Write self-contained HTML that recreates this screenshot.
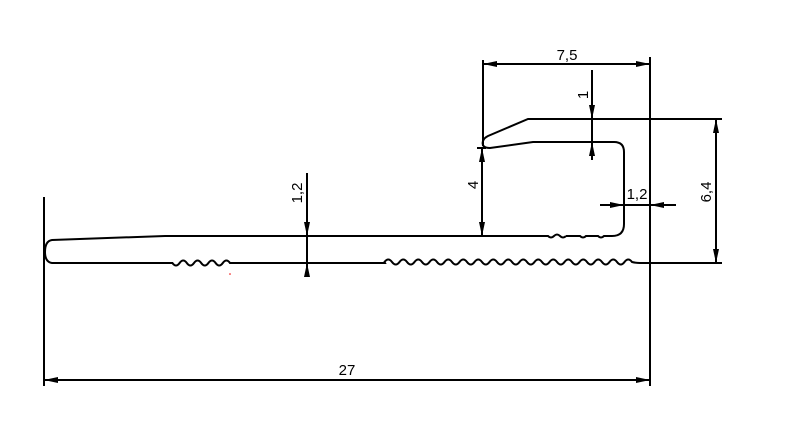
<!DOCTYPE html>
<html><head><meta charset="utf-8"><style>
html,body{margin:0;padding:0;background:#fff;}
svg{display:block}
text{font-family:"Liberation Sans",sans-serif;font-size:15px;fill:#000}
</style></head><body>
<svg width="800" height="427" viewBox="0 0 800 427" xmlns="http://www.w3.org/2000/svg">
<defs>
<marker id="a" viewBox="0 0 14 6" refX="14" refY="3" markerWidth="14" markerHeight="6" markerUnits="userSpaceOnUse" orient="auto-start-reverse"><path d="M0,0L14,3L0,6z" fill="#000"/></marker>
</defs>
<g fill="none" stroke="#000" stroke-width="2">
<path d="M650,263 L640,263 Q636,263 632,262 q-3.75,-5 -7.5,0 t-7.5,0 t-7.5,0 t-7.5,0 t-7.5,0 t-7.5,0 t-7.5,0 t-7.5,0 t-7.5,0 t-7.5,0 t-7.5,0 t-7.5,0 t-7.5,0 t-7.5,0 t-7.5,0 t-7.5,0 t-7.5,0 t-7.5,0 t-7.5,0 t-7.5,0 t-7.5,0 t-7.5,0 t-7.5,0 t-7.5,0 t-7.5,0 t-7.5,0 t-7.5,0 t-7.5,0 t-7.5,0 t-7.5,0 t-7.5,0 t-7.5,0 t-7.5,0 L385,263 L230,263 q-3.6,-5 -7.2,0 t-7.2,0 t-7.2,0 t-7.2,0 t-7.2,0 t-7.2,0 t-7.2,0 t-7.2,0 L52,263 Q45,262 45,252 Q45,241 52,240 L165,236 L548,236 q3,3 6,0 t6,0 t6,0 M566,236 L580,236 q3,3 6,0 L598,236 q3,3 6,0 L612,236 Q624,236 624,224 L624,152 Q624,142 614,142 L533,142 L490,148 Q481,148 483,141 Q484,138 488,136 L528,119 L650,119 L650,263"/>
<path d="M44,197V386 M650,57V386 M483,60V146 M650,119H722 M650,263H722 M477,148H486"/>
<line x1="483" y1="64" x2="650" y2="64" marker-start="url(#a)" marker-end="url(#a)"/>
<line x1="44" y1="380" x2="650" y2="380" marker-start="url(#a)" marker-end="url(#a)"/>
<line x1="716" y1="119" x2="716" y2="263" marker-start="url(#a)" marker-end="url(#a)"/>
<line x1="482" y1="148" x2="482" y2="236" marker-start="url(#a)" marker-end="url(#a)"/>
<line x1="592" y1="70" x2="592" y2="119" marker-end="url(#a)"/>
<line x1="592" y1="160" x2="592" y2="142" marker-end="url(#a)"/>
<line x1="592" y1="119" x2="592" y2="142"/>
<line x1="307" y1="173" x2="307" y2="236" marker-end="url(#a)"/>
<line x1="307" y1="276" x2="307" y2="263" marker-end="url(#a)"/>
<line x1="307" y1="236" x2="307" y2="263"/>
<line x1="600" y1="205" x2="624" y2="205" marker-end="url(#a)"/>
<line x1="676" y1="205" x2="650" y2="205" marker-end="url(#a)"/>
<line x1="624" y1="205" x2="650" y2="205"/>
</g>
<text x="567" y="60" text-anchor="middle">7,5</text>
<text x="347" y="375" text-anchor="middle">27</text>
<text x="637" y="199" text-anchor="middle">1,2</text>
<text transform="translate(588,95) rotate(-90)" text-anchor="middle">1</text>
<text transform="translate(478,185) rotate(-90)" text-anchor="middle">4</text>
<text transform="translate(711,192) rotate(-90)" text-anchor="middle">6,4</text>
<text transform="translate(302,193) rotate(-90)" text-anchor="middle">1,2</text>
<circle cx="230" cy="274" r="0.8" fill="#e00"/>
</svg>
</body></html>
